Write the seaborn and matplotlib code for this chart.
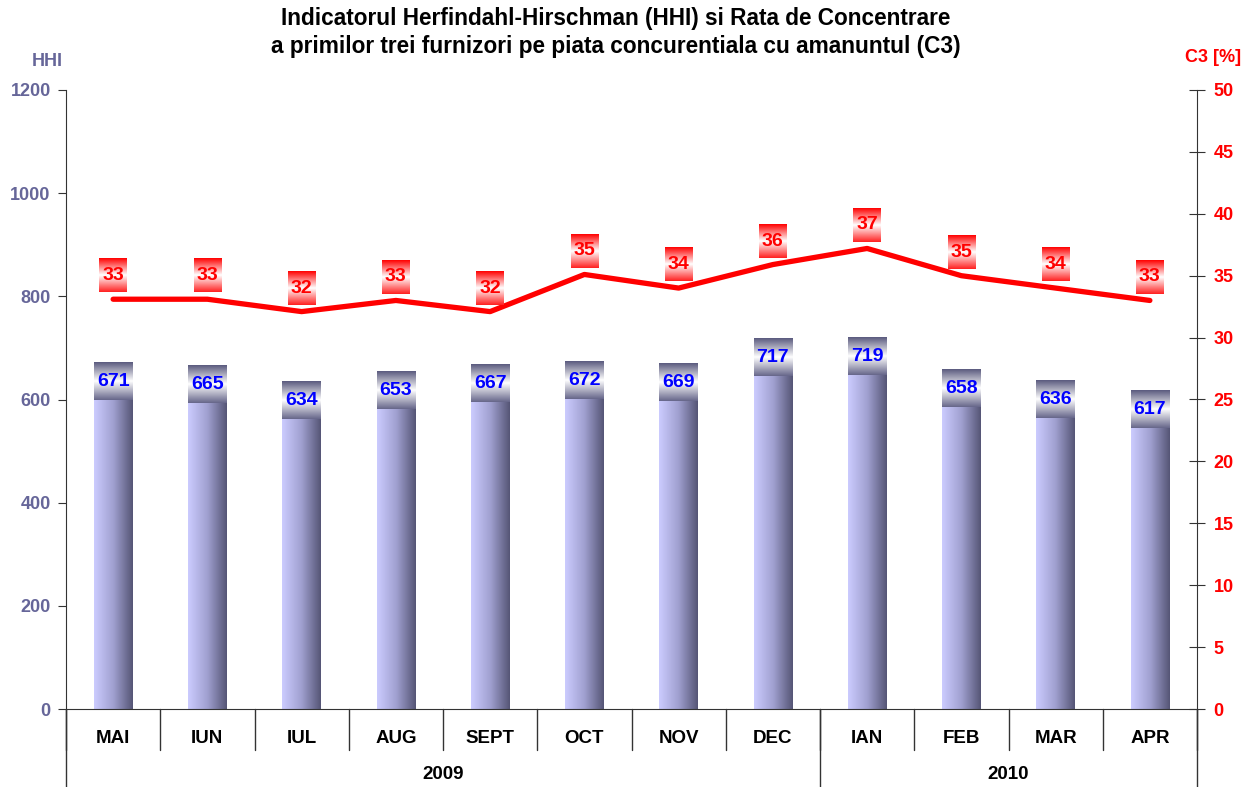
import numpy as np
import pandas as pd
import seaborn as sns
import matplotlib.pyplot as plt
from matplotlib.colors import LinearSegmentedColormap
from matplotlib import transforms

# date
luni = ['MAI', 'IUN', 'IUL', 'AUG', 'SEPT', 'OCT', 'NOV', 'DEC', 'IAN', 'FEB', 'MAR', 'APR']
ani = ['2009', '2010']
luni_pe_an = [8, 4]
hhi = [671, 665, 634, 653, 667, 672, 669, 717, 719, 658, 636, 617]
c3 = [33.1, 33.1, 32.1, 33.0, 32.1, 35.1, 34.0, 35.9, 37.2, 35.0, 34.0, 33.0]
c3_etichete = [33, 33, 32, 33, 32, 35, 34, 36, 37, 35, 34, 33]

sns.set_style('white')
plt.rcParams['font.family'] = ['Liberation Sans', 'DejaVu Sans']
plt.rcParams['font.weight'] = 'bold'
plt.rcParams['text.color'] = 'black'
plt.rcParams['xtick.color'] = 'black'

W, H = 1255, 787
fig = plt.figure(figsize=(W / 100, H / 100), dpi=100)
ax = fig.add_axes([66 / W, 1 - 709 / H, (1197 - 66) / W, (709 - 90) / H])

df = pd.DataFrame({'luna': luni, 'HHI': hhi, 'C3': c3})
sns.barplot(data=df, x='luna', y='HHI', order=luni, width=0.41, color='#9999cc', ax=ax)

cmap_bar = LinearSegmentedColormap.from_list('bar', ['#ccccff', '#a0a0d0', '#555575'])
cmap_eti = LinearSegmentedColormap.from_list('eti', ['#5a5a7e', '#ffffff', '#66668a'])
cmap_red = LinearSegmentedColormap.from_list('red', ['#ff0000', '#ffffff', '#ff2020'])
grad_h = np.linspace(0, 1, 256).reshape(1, -1)
grad_v = np.linspace(0, 1, 256).reshape(-1, 1)

for p, v in zip(ax.patches, hhi):
    x0, w = p.get_x(), p.get_width()
    ax.imshow(grad_h, cmap=cmap_bar, extent=[x0, x0 + w, 0, v], aspect='auto', zorder=2)
    ax.imshow(grad_v, cmap=cmap_eti, extent=[x0, x0 + w, v - 72, v], aspect='auto', zorder=3)
    ax.text(x0 + w / 2, v - 36, str(v), ha='center', va='center', color='#0000ff',
            fontsize=14, fontweight='bold', zorder=4)

ax.set_xlim(-0.5, len(luni) - 0.5)
ax.set_ylim(0, 1200)
ax.set_yticks(range(0, 1201, 200))
ax.set_xlabel('')
ax.set_ylabel('')
ax.tick_params(axis='y', direction='out', length=6, color='#333333', labelsize=13, pad=5)
ax.tick_params(axis='x', length=0, labelsize=13.5, pad=15)
for t in ax.get_yticklabels():
    t.set_color('#666699')
    t.set_fontweight('bold')
for t in ax.get_xticklabels():
    t.set_color('black')
    t.set_fontweight('bold')
ax.spines['top'].set_visible(False)
ax.spines['right'].set_visible(False)
ax.spines['left'].set_color('#333333')
ax.spines['bottom'].set_color('#333333')

# axa C3
ax2 = ax.twinx()
sns.lineplot(x=np.arange(len(luni)), y=c3, ax=ax2, color='#ff0000', linewidth=3.8, zorder=2)
ax2.set_ylim(0, 50)
ax2.set_yticks(range(0, 51, 5))
ax2.tick_params(axis='y', direction='inout', length=12, color='#333333', labelsize=13, pad=6)
for t in ax2.get_yticklabels():
    t.set_color('#ff0000')
    t.set_fontweight('bold')
for s in ['top', 'left', 'bottom']:
    ax2.spines[s].set_visible(False)
ax2.spines['right'].set_color('#333333')

for i, (v, e) in enumerate(zip(c3, c3_etichete)):
    ax2.imshow(grad_v, cmap=cmap_red, extent=[i - 0.145, i + 0.145, v + 0.55, v + 3.25],
               aspect='auto', zorder=3)
    ax2.text(i, v + 1.9, str(e), ha='center', va='center', color='#ff0000',
             fontsize=14, fontweight='bold', zorder=4)
ax2.set_xlim(-0.5, len(luni) - 0.5)
ax2.set_ylim(0, 50)

# separatoare categorii
tr = transforms.blended_transform_factory(ax.transData, ax.transAxes)
for i in range(len(luni) + 1):
    ax.plot([i - 0.5, i - 0.5], [0, -0.066], transform=tr, color='#333333', lw=1, clip_on=False)
start = -0.5
ax.plot([start, start], [0, -0.13], transform=tr, color='#333333', lw=1, clip_on=False)
for an, n in zip(ani, luni_pe_an):
    ax.plot([start + n, start + n], [0, -0.13], transform=tr, color='#333333', lw=1, clip_on=False)
    ax.text(start + n / 2, -0.1055, an, transform=tr, ha='center', va='center',
            fontsize=13.5, fontweight='bold', color='black')
    start += n

fig.text(616 / W, 1 - 18 / H, 'Indicatorul Herfindahl-Hirschman (HHI) si Rata de Concentrare',
         ha='center', va='center', fontsize=16.3, fontweight='bold', color='black')
fig.text(616 / W, 1 - 47 / H, 'a primilor trei furnizori pe piata concurentiala cu amanuntul (C3)',
         ha='center', va='center', fontsize=16.3, fontweight='bold', color='black')
fig.text(47 / W, 1 - 62 / H, 'HHI', ha='center', va='center', color='#666699',
         fontsize=13, fontweight='bold')
fig.text(1213 / W, 1 - 58 / H, 'C3 [%]', ha='center', va='center', color='#ff0000',
         fontsize=13, fontweight='bold')

fig.savefig('out.png', dpi=100)
